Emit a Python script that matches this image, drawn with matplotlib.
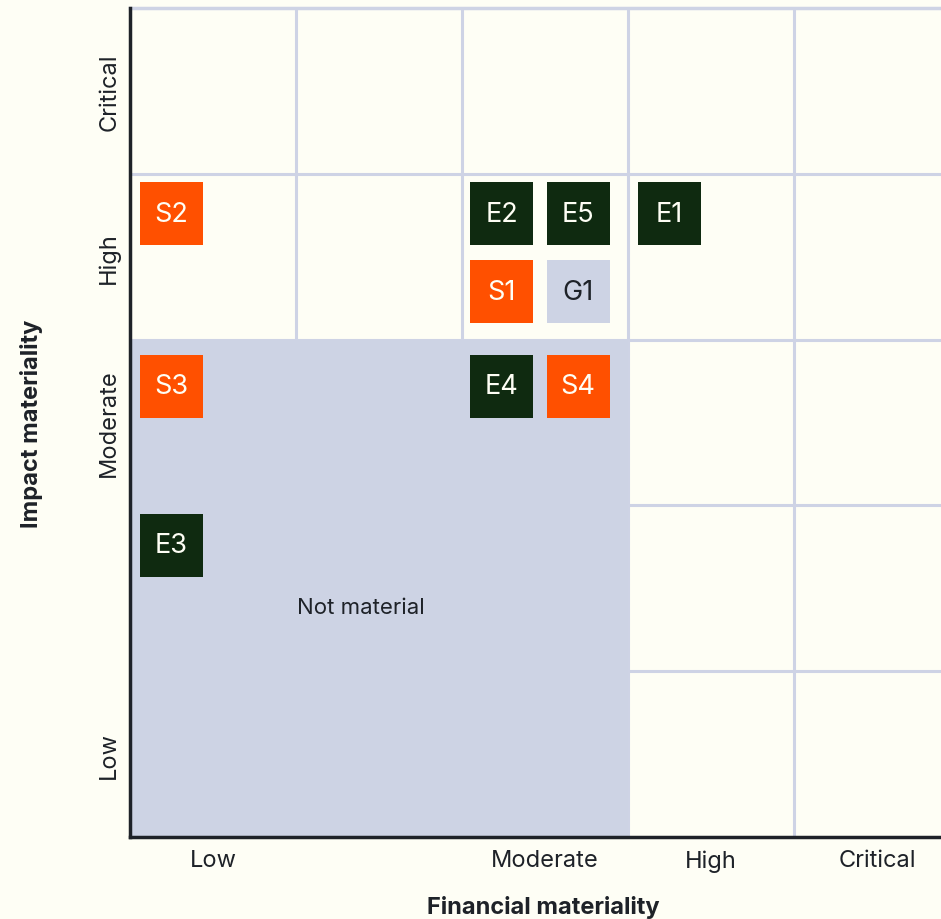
import matplotlib
matplotlib.use("Agg")
import matplotlib.pyplot as plt
from matplotlib.patches import Rectangle

plt.rcParams['font.family'] = ['Inter', 'DejaVu Sans']

# data
levels_x = ['Low', '', 'Moderate', 'High', 'Critical']
levels_y = ['Low', '', 'Moderate', 'High', 'Critical']
topics = ['S2', 'E2', 'E5', 'E1', 'S1', 'G1', 'S3', 'E4', 'S4', 'E3']
fin_pos = [0.25, 2.24, 2.70, 3.25, 2.24, 2.70, 0.25, 2.24, 2.70, 0.25]
imp_pos = [3.76, 3.76, 3.76, 3.76, 3.29, 3.29, 2.72, 2.72, 2.72, 1.76]

bg = '#fefef5'
grid_c = '#ced3e5'
dark = '#1e2228'
colors = {'E': '#0f2a10', 'S': '#ff5000', 'G': '#cdd3e4'}
text_c = {'E': '#fefef5', 'S': '#fefef5', 'G': dark}

fig = plt.figure(figsize=(9.41, 9.20), dpi=100, facecolor=bg)
ax = fig.add_axes([130/941, 82/920, 830/941, 829/920])
ax.set_facecolor(bg)
ax.set_xlim(0, 5)
ax.set_ylim(0, 5)

# grid
for v in [1, 2, 3, 4]:
    ax.axvline(v, color=grid_c, lw=2.2, zorder=1)
    ax.axhline(v, color=grid_c, lw=2.2, zorder=1)
ax.axhline(5, color=grid_c, lw=2.5, zorder=1, clip_on=False)

# not material zone
ax.add_patch(Rectangle((0, 0), 3, 3, facecolor='#cdd3e4', edgecolor='none', zorder=2))
ax.text(1.39, 1.39, 'Not material', ha='center', va='center', fontsize=16, color=dark, zorder=3)

# topic boxes
size = 0.38
for t, x, y in zip(topics, fin_pos, imp_pos):
    g = t[0]
    ax.add_patch(Rectangle((x - size/2, y - size/2), size, size,
                           facecolor=colors[g], edgecolor='none', zorder=4))
    ax.text(x, y, t, ha='center', va='center', fontsize=19.5, color=text_c[g], zorder=5)

# axes
for s in ['top', 'right']:
    ax.spines[s].set_visible(False)
for s in ['left', 'bottom']:
    ax.spines[s].set_color(dark)
    ax.spines[s].set_linewidth(2.5)
    ax.spines[s].set_zorder(6)

xt = [i + 0.5 for i, l in enumerate(levels_x) if l]
ax.set_xticks(xt)
ax.set_xticklabels([l for l in levels_x if l], fontsize=17, color=dark)
yt = [i + 0.5 for i, l in enumerate(levels_y) if l]
ax.set_yticks(yt)
ax.set_yticklabels([l for l in levels_y if l], fontsize=17, color=dark, rotation=90, va='center')
ax.tick_params(axis='x', length=0, pad=9)
ax.tick_params(axis='y', length=0, pad=7)

ax.set_xlabel('Financial materiality', fontsize=17, fontweight='bold', color=dark, va='center')
ax.set_ylabel('Impact materiality', fontsize=17, fontweight='bold', color=dark, va='center')
ax.xaxis.set_label_coords((543 - 130) / 830, -(908 - 838) / 829)
ax.yaxis.set_label_coords(-(130 - 32) / 830, 0.5)

fig.savefig('out.png', dpi=100, facecolor=bg)
